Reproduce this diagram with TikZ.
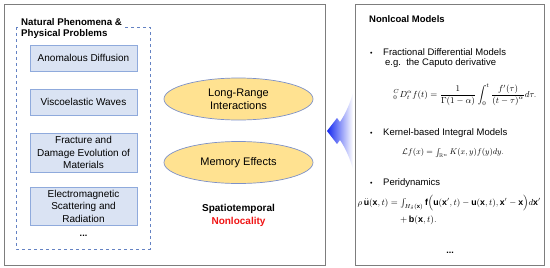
\documentclass[tikz,border=0pt]{standalone}
\usepackage{amsmath,amssymb}
\usepackage{fontspec}
\setmainfont{Liberation Sans}
\usetikzlibrary{positioning,shapes.geometric}
\definecolor{boxfill}{RGB}{218,227,243}
\definecolor{boxline}{RGB}{143,170,220}
\definecolor{dashline}{RGB}{100,130,195}
\definecolor{ellfill}{RGB}{255,226,145}
\definecolor{ellline}{RGB}{125,145,200}
\definecolor{frame}{RGB}{125,125,125}
\definecolor{arrowblue}{RGB}{20,40,240}
\definecolor{nlred}{RGB}{240,20,20}
\newcommand{\bul}{\makebox[13pt][l]{\fontsize{7}{7}\selectfont\textbullet}}

\begin{document}
\begin{tikzpicture}[x=1pt,y=-1pt,
  phen/.style={rectangle,draw=boxline,fill=boxfill,line width=0.8pt,minimum width=107pt,align=center,inner sep=1pt,font=\fontsize{10}{12.5}\selectfont},
  eff/.style={ellipse,draw=ellline,fill=ellfill,line width=0.7pt,minimum width=149pt,minimum height=42pt,align=center,font=\fontsize{11}{13}\selectfont},
  frm/.style={draw=frame,line width=0.7pt},
  txt/.style={anchor=west,inner sep=0pt,font=\fontsize{9.5}{11}\selectfont},
  eq/.style={inner sep=0pt,font=\fontsize{9}{11}\selectfont}]
  \useasboundingbox (0,0) rectangle (550,268);
  % frames
  \draw[frm] (4,4) rectangle (325,265);
  \draw[frm] (355.5,4) rectangle (544,265);
  \draw[dashline,dashed,line width=0.9pt] (16,27) rectangle (150,249);
  % phenomena
  \node[fill=white,align=left,anchor=north west,inner sep=3pt,font=\bfseries\fontsize{9.7}{11}\selectfont] (np) at (18,15) {Natural Phenomena \&\\Physical Problems};
  \node[phen,minimum height=26pt] (ad) at (83.5,58) {Anomalous Diffusion};
  \node[phen,minimum height=26pt] (vw) at (83.5,102) {Viscoelastic Waves};
  \node[phen,minimum height=39pt] (fd) at (83.5,152.5) {Fracture and\\Damage Evolution of\\Materials};
  \node[phen,minimum height=38pt] (es) at (83.5,206) {Electromagnetic\\Scattering and\\Radiation};
  \node[font=\bfseries\fontsize{9}{11}\selectfont] (ld) at (83.5,236) {...};
  % nonlocal effects
  \node[eff] (lr) at (238.5,99) {Long-Range\\Interactions};
  \node[eff] (me) at (238.5,162.5) {Memory Effects};
  \node[align=center,font=\bfseries\fontsize{10}{13}\selectfont] (st) at (238.5,215) {Spatiotemporal\\\textcolor{nlred}{Nonlocality}};
  % big arrow
  \shade[left color=arrowblue,right color=white] (327,131) -- (337,118) -- (340,122)
    .. controls (346,113) and (350,103) .. (353,93) -- (353,169)
    .. controls (350,159) and (346,149) .. (340,140) -- (337,144) -- cycle;
  % models
  \node[txt,font=\bfseries\fontsize{9.5}{11}\selectfont] (nm) at (369,19) {Nonlcoal Models};
  \node[txt] (b1) at (370,52) {\bul Fractional Differential Models};
  \node[txt] (eg) at (385,63) {e.g.\ \ the Caputo derivative};
  \node[eq] (f1) at (465,95) {\resizebox{143pt}{!}{$\displaystyle {}_{0}^{C}D_t^{\alpha} f(t)=\frac{1}{\Gamma(1-\alpha)}\int_0^t\frac{f'(\tau)}{\left(t-\tau\right)^{\alpha}}d\tau.$}};
  \node[txt] (b2) at (370,133) {\bul Kernel-based Integral Models};
  \node[eq] (f2) at (453,153) {\resizebox{102pt}{!}{$\mathcal{L}f(x)=\int_{\mathbb{R}^n}K(x,y)f(y)dy.$}};
  \node[txt] (b3) at (370,183) {\bul Peridynamics};
  \node[eq,anchor=west] (f3) at (357.5,203) {\resizebox{183pt}{!}{$\rho\,\ddot{\mathbf{u}}(\mathbf{x},t)=\int_{H_\delta(\mathbf{x})}\mathbf{f}\Big(\mathbf{u}(\mathbf{x}',t)-\mathbf{u}(\mathbf{x},t),\mathbf{x}'-\mathbf{x}\Big)d\mathbf{x}'$}};
  \node[eq,anchor=west] (f4) at (400,220) {$+\,\mathbf{b}(\mathbf{x},t).$};
  \node[font=\bfseries\fontsize{9}{11}\selectfont] (rd) at (450,253) {...};
\end{tikzpicture}
\end{document}
